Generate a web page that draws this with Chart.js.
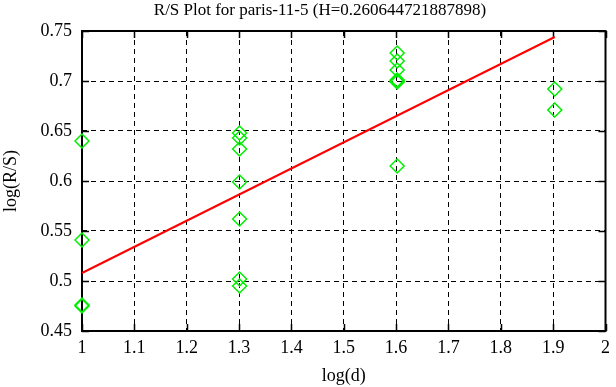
<!DOCTYPE html>
<html>
<head>
<meta charset="utf-8">
<script src="https://cdn.jsdelivr.net/npm/chart.js@4/dist/chart.umd.min.js"></script>
<style>
html,body{margin:0;padding:0;background:#fff;}
#wrap{width:616px;height:387px;position:relative;}
</style>
</head>
<body>
<div id="wrap"><canvas id="c" width="616" height="387"></canvas></div>
<script>
const titleText = "R/S Plot for paris-11-5 (H=0.260644721887898)";
const xLabel = "log(d)";
const yLabel = "log(R/S)";
const xTicks = [1, 1.1, 1.2, 1.3, 1.4, 1.5, 1.6, 1.7, 1.8, 1.9, 2];
const yTicks = [0.45, 0.5, 0.55, 0.6, 0.65, 0.7, 0.75];
const pointX = [1, 1, 1, 1,
  1.30103, 1.30103, 1.30103, 1.30103, 1.30103, 1.30103, 1.30103,
  1.60206, 1.60206, 1.60206, 1.60206, 1.60206, 1.60206, 1.60206,
  1.90309, 1.90309];
const pointY = [0.640, 0.541, 0.475, 0.476,
  0.648, 0.643, 0.632, 0.599, 0.562, 0.502, 0.495,
  0.728, 0.720, 0.711, 0.701, 0.699, 0.700, 0.615,
  0.692, 0.671];
const fitX = [1, 1.90309];
const fitY = [0.508, 0.744];

const serif = "'Liberation Serif', 'DejaVu Serif', serif";

const framePlugin = {
  id: 'frame',
  beforeDatasetsDraw(chart) {
    const ctx = chart.ctx, a = chart.chartArea;
    const xs = chart.scales.x, ys = chart.scales.y;
    ctx.save();
    ctx.strokeStyle = '#000';
    ctx.lineWidth = 1.5;
    ctx.setLineDash([]);
    const tl = 7;
    ctx.beginPath();
    xTicks.forEach(v => {
      const p = Math.round(xs.getPixelForValue(v)) + 0.5;
      ctx.moveTo(p, a.bottom); ctx.lineTo(p, a.bottom - tl);
      ctx.moveTo(p, a.top); ctx.lineTo(p, a.top + tl);
    });
    yTicks.forEach(v => {
      const p = Math.round(ys.getPixelForValue(v)) + 0.5;
      ctx.moveTo(a.left, p); ctx.lineTo(a.left + tl, p);
      ctx.moveTo(a.right, p); ctx.lineTo(a.right - tl, p);
    });
    ctx.stroke();
    ctx.lineWidth = 2;
    ctx.strokeRect(a.left, a.top, a.right - a.left, a.bottom - a.top);
    ctx.restore();
  },
  afterDraw(chart) {
    const ctx = chart.ctx;
    ctx.save();
    ctx.fillStyle = '#000';
    ctx.font = "17px " + serif;
    ctx.textAlign = 'center';
    ctx.textBaseline = 'middle';
    ctx.fillText(titleText, 320, 11);
    ctx.restore();
  }
};

new Chart(document.getElementById('c'), {
  type: 'scatter',
  data: {
    datasets: [
      {
        type: 'line',
        data: fitX.map((x, i) => ({x: x, y: fitY[i]})),
        borderColor: '#ff0000',
        borderWidth: 2,
        pointRadius: 0,
        fill: false,
        clip: false,
        order: 1
      },
      {
        data: pointX.map((x, i) => ({x: x, y: pointY[i]})),
        pointStyle: 'rectRot',
        pointRadius: 7,
        pointBorderColor: '#00ee00',
        pointBackgroundColor: 'rgba(0,0,0,0)',
        pointBorderWidth: 1.5,
        showLine: false,
        clip: false,
        order: 0
      }
    ]
  },
  options: {
    responsive: false,
    animation: false,
    devicePixelRatio: 1,
    layout: {padding: {left: 0, right: 7, top: 31, bottom: 0}},
    plugins: {legend: {display: false}, tooltip: {enabled: false}, title: {display: false}},
    scales: {
      x: {
        type: 'linear',
        min: 1, max: 2,
        afterBuildTicks(s) { s.ticks = xTicks.map(v => ({value: v})); },
        afterFit(s) { s.height = 56; },
        ticks: {
          color: '#000',
          font: {family: serif, size: 18},
          padding: 6,
          maxRotation: 0,
          callback: v => String(+v.toFixed(2))
        },
        grid: {color: '#000', lineWidth: 1, tickLength: 0, drawTicks: false},
        border: {display: false, dash: [5, 4]},
        title: {display: true, text: xLabel, color: '#000', font: {family: serif, size: 18}, padding: {top: 0, bottom: 0}}
      },
      y: {
        type: 'linear',
        min: 0.45, max: 0.75,
        afterBuildTicks(s) { s.ticks = yTicks.map(v => ({value: v})); },
        afterFit(s) { s.width = 82; },
        ticks: {
          color: '#000',
          font: {family: serif, size: 18},
          padding: 10,
          callback: v => String(+v.toFixed(2))
        },
        grid: {color: '#000', lineWidth: 1, tickLength: 0, drawTicks: false},
        border: {display: false, dash: [5, 4]},
        title: {display: true, text: yLabel, color: '#000', font: {family: serif, size: 18}, padding: {top: 0, bottom: 0}}
      }
    }
  },
  plugins: [framePlugin]
});
</script>
</body>
</html>
